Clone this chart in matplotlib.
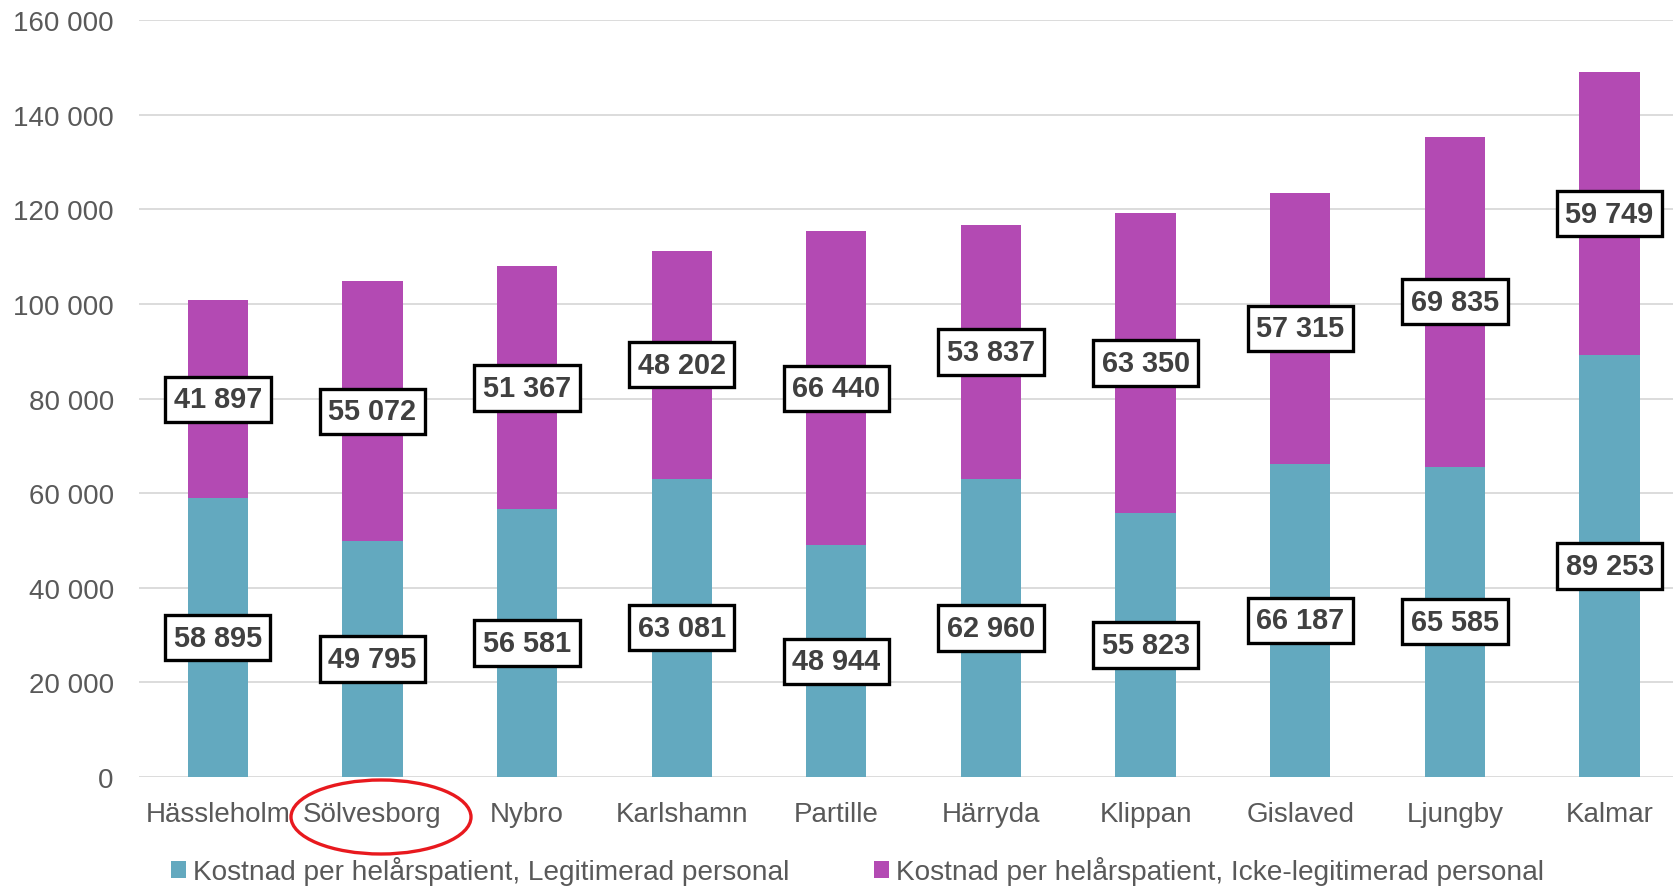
import matplotlib.pyplot as plt
from matplotlib.patches import Ellipse

# data
kommuner = ["Hässleholm", "Sölvesborg", "Nybro", "Karlshamn", "Partille",
            "Härryda", "Klippan", "Gislaved", "Ljungby", "Kalmar"]
legitimerad = [58895, 49795, 56581, 63081, 48944, 62960, 55823, 66187, 65585, 89253]
icke_legitimerad = [41897, 55072, 51367, 48202, 66440, 53837, 63350, 57315, 69835, 59749]
y_ticks = [0, 20000, 40000, 60000, 80000, 100000, 120000, 140000, 160000]

teal = "#63A9BF"
lila = "#B34AB3"
grå = "#595959"

plt.rcParams['font.family'] = ['Liberation Sans', 'DejaVu Sans']

def fmt(v):
    return f"{v:,}".replace(",", " ")

fig = plt.figure(figsize=(16.73, 8.87), dpi=100)
ax = fig.add_axes([0.083, 0.123, 0.917, 0.853])

x = list(range(len(kommuner)))
b1 = ax.bar(x, legitimerad, width=0.39, color=teal, zorder=2,
            label="Kostnad per helårspatient, Legitimerad personal")
b2 = ax.bar(x, icke_legitimerad, width=0.39, bottom=legitimerad, color=lila, zorder=2,
            label="Kostnad per helårspatient, Icke-legitimerad personal")

box = dict(boxstyle="square,pad=0.3", facecolor="white", edgecolor="black", linewidth=2.4)
for i in x:
    ax.text(i, legitimerad[i] / 2, fmt(legitimerad[i]), ha="center", va="center",
            fontsize=20.8, fontweight="bold", color="#404040", bbox=box, zorder=4)
    ax.text(i, legitimerad[i] + icke_legitimerad[i] / 2, fmt(icke_legitimerad[i]),
            ha="center", va="center", fontsize=20.8, fontweight="bold", color="#404040",
            bbox=box, zorder=4)

ax.set_xlim(-0.51, 9.41)
ax.set_ylim(0, 160000)
ax.set_yticks(y_ticks)
ax.set_yticklabels([fmt(v) for v in y_ticks])
ax.set_xticks(x)
ax.set_xticklabels(kommuner)
ax.tick_params(axis="both", length=0, labelsize=20, labelcolor=grå)
ax.tick_params(axis="y", pad=18)
ax.tick_params(axis="x", pad=17)
ax.grid(axis="y", color="#D9D9D9", linewidth=1.3, zorder=0)
for s in ax.spines.values():
    s.set_visible(False)

fig.legend(handles=[b1, b2], loc="center left", bbox_to_anchor=(0.102, 0.017),
           ncol=2, frameon=False, fontsize=20.2, handlelength=0.55, handleheight=0.55,
           handletextpad=0.25, columnspacing=3.0, borderpad=0, borderaxespad=0,
           labelcolor=grå)

# red hand-drawn ring around Sölvesborg
ring = Ellipse((381 / 1673, 1 - 818 / 887), 180 / 1673, 74 / 887, transform=fig.transFigure,
               fill=False, edgecolor="#E8191E", linewidth=2.4, clip_on=False)
fig.patches.append(ring)

fig.savefig("out.png", dpi=100)
